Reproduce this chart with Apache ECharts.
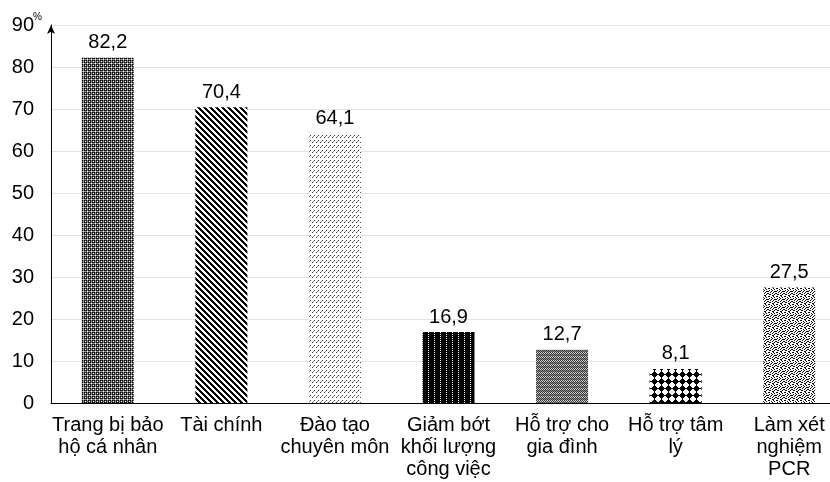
<!DOCTYPE html>
<html>
<head>
<meta charset="utf-8">
<script src="https://cdn.jsdelivr.net/npm/echarts@6/dist/echarts.min.js"></script>
<style>
  html, body { margin: 0; padding: 0; background: #fff; }
  #chart { width: 830px; height: 482px; }
</style>
</head>
<body>
<div id="chart"></div>
<script>
// Survey: support received, percent of respondents
const categories = [
  'Trang bị bảo\nhộ cá nhân',
  'Tài chính',
  'Đào tạo\nchuyên môn',
  'Giảm bớt\nkhối lượng\ncông việc',
  'Hỗ trợ cho\ngia đình',
  'Hỗ trợ tâm\nlý',
  'Làm xét\nnghiệm\nPCR'
];
const values = [82.2, 70.4, 64.1, 16.9, 12.7, 8.1, 27.5];
const yTicks = { min: 0, max: 90, step: 10 };
const unitLabel = '%';

// Bitmap fill tiles, one per bar. K=black, D=dark gray, G=gray, L=light gray, .=white
const tileColors = { K: '#000000', D: '#3a3a3a', G: '#8a8a8a', L: '#cfcfcf', '.': '#ffffff' };
const tiles = [
  [ // small weave
    'KDKG',
    'D.DG',
    'KDKG',
    'GGG.'
  ],
  [ // wide downward diagonal
    'KKK...',
    '.KKK..',
    '..KKK.',
    '...KKK',
    'K...KK',
    'KK...K'
  ],
  [ // dashed upward diagonal
    '..D.',
    '.G..',
    'D...',
    '....',
    '....'
  ],
  [ // dotted vertical lines on black
    'KK.KKK',
    'KKKKKK'
  ],
  [ // gray checker
    'DLDL',
    'LDLD',
    'DGDG',
    'GDGD'
  ],
  [ // solid diamonds
    '...K...',
    '..KKK..',
    '.KKKKK.',
    'KKKKKKK',
    '.KKKKK.',
    '..KKK..',
    '...K...'
  ],
  [ // confetti
    'KK...K..',
    '...K..K.',
    '.K..K...',
    'K..K..KK',
    '..K..K..',
    'K...K..K',
    '.KK...K.',
    '....KK..'
  ]
];

function makePattern(rows) {
  const h = rows.length, w = rows[0].length;
  const c = document.createElement('canvas');
  c.width = w; c.height = h;
  const ctx = c.getContext('2d');
  for (let y = 0; y < h; y++) {
    for (let x = 0; x < w; x++) {
      ctx.fillStyle = tileColors[rows[y][x]];
      ctx.fillRect(x, y, 1, 1);
    }
  }
  return { image: c, repeat: 'repeat' };
}

const font = '"Liberation Sans", Arial, sans-serif';

const chart = echarts.init(document.getElementById('chart'), null, { renderer: 'canvas' });
chart.setOption({
  animation: false,
  backgroundColor: '#ffffff',
  grid: { left: 51, top: 25, width: 795, height: 378, containLabel: false, outerBoundsMode: 'none' },
  xAxis: {
    type: 'category',
    data: categories,
    axisLine: { show: true, lineStyle: { color: '#000', width: 1 } },
    axisTick: { show: false },
    axisLabel: {
      interval: 0,
      color: '#000',
      fontFamily: font,
      fontSize: 20,
      lineHeight: 22,
      margin: 11,
      align: 'center'
    }
  },
  yAxis: {
    type: 'value',
    min: yTicks.min,
    max: yTicks.max,
    interval: yTicks.step,
    axisLine: {
      show: true,
      symbol: ['none', 'arrow'],
      symbolSize: [6, 9],
      lineStyle: { color: '#000', width: 1 }
    },
    axisTick: { show: false },
    axisLabel: { color: '#000', fontFamily: font, fontSize: 20, margin: 17 },
    splitLine: { show: true, lineStyle: { color: '#e3e3e3', width: 1 } }
  },
  graphic: [{
    type: 'text',
    left: 33, top: 12,
    style: { text: unitLabel, fontSize: 10, fontFamily: font, fill: '#000' }
  }],
  series: [{
    type: 'bar',
    barWidth: 52,
    data: values.map((v, i) => ({ value: v, itemStyle: { color: makePattern(tiles[i]) } })),
    label: {
      show: true,
      position: 'top',
      distance: 5,
      color: '#000',
      fontFamily: font,
      fontSize: 20,
      formatter: p => String(p.value).replace('.', ',')
    }
  }]
});
</script>
</body>
</html>
